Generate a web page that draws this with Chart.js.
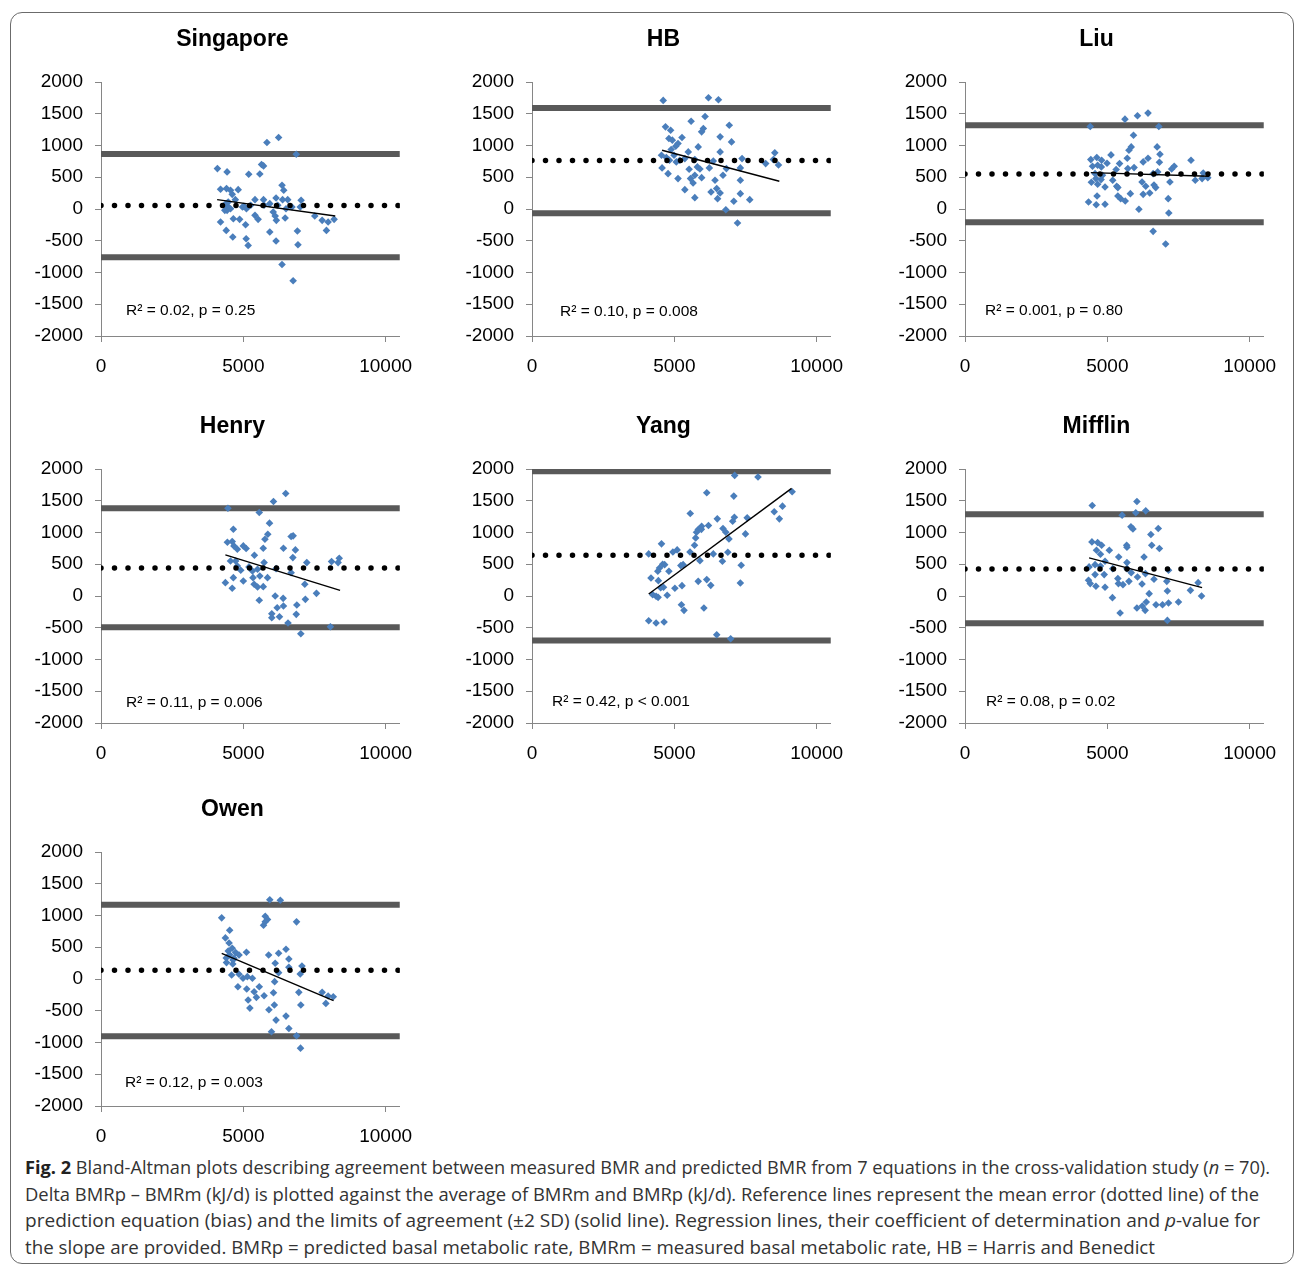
<!DOCTYPE html>
<html lang="en">
<head>
<meta charset="UTF-8" />
<title>Bland-Altman plots, 7 BMR equations</title>
<script src="https://cdn.jsdelivr.net/npm/chart.js"></script>
<style>
  body { margin: 0; background: #fff; width: 1296px; height: 1265px; position: relative; overflow: hidden; }
  .frame { position: absolute; left: 10px; top: 12px; width: 1284px; height: 1252px; border: 1px solid #6b6b6b; border-radius: 12px; box-sizing: border-box; }
  .panel { position: absolute; }
  .caption { position: absolute; left: 25px; top: 1154px; font-family: "Open Sans", sans-serif; font-size: 18.5px; line-height: 26.5px; color: #333; white-space: nowrap; }
  .caption div { transform-origin: 0 0; width: max-content; }
</style>
</head>
<body>
<div class="frame"></div>

<div class="caption" id="caption">
  <div><b style="color:#222">Fig. 2</b> Bland-Altman plots describing agreement between measured BMR and predicted BMR from 7 equations in the cross-validation study (<i>n</i> = 70).</div>
  <div>Delta BMRp – BMRm (kJ/d) is plotted against the average of BMRm and BMRp (kJ/d). Reference lines represent the mean error (dotted line) of the</div>
  <div>prediction equation (bias) and the limits of agreement (±2 SD) (solid line). Regression lines, their coefficient of determination and <i>p</i>-value for</div>
  <div>the slope are provided. BMRp = predicted basal metabolic rate, BMRm = measured basal metabolic rate, HB = Harris and Benedict</div>
</div>

<script>
  // points: [average of BMRm and BMRp, BMRp - BMRm]  (kJ/d)
  const singapore = [[4090,636],[4430,584],[5830,1047],[6240,1126],[6860,863],[5190,547],[5580,552],[5640,700],[5710,679],[4200,310],
    [4410,321],[4550,295],[4820,305],[4610,231],[4720,147],[4330,58],[4430,-21],[4550,5],[4400,84],[4970,32],
    [5110,5],[5260,58],[5410,147],[5710,147],[5930,84],[6150,174],[6360,373],[6420,295],[6380,147],[6560,147],
    [7030,137],[7000,32],[5730,58],[6210,58],[6050,-47],[6120,-110],[5410,-100],[5520,-163],[6160,-179],[6470,-142],
    [4200,-205],[4650,-153],[4870,-163],[5080,-247],[7510,-110],[7770,-179],[7980,-205],[8190,-163],[7920,-337],[4400,-337],
    [4630,-442],[5100,-468],[5170,-573],[5930,-363],[6150,-505],[6900,-347],[6920,-563],[6360,-873],[6750,-1131],[4490,21],
    [4350,-21],[4470,110],[5020,42],[6710,32],[6500,5]];
  const hb = [[4610,1710],[6200,1752],[6550,1720],[6080,1457],[5590,1383],[6930,1320],[4690,1294],[4870,1241],[6610,1136],[7010,1057],
    [6020,1268],[5960,1215],[5270,1126],[4810,1110],[4930,1084],[5130,1031],[5050,989],[4890,936],[5840,978],[5490,899],
    [6610,899],[4550,847],[4720,810],[4990,847],[5190,768],[5370,794],[5720,778],[6370,757],[7380,794],[8210,715],
    [8530,884],[8480,778],[8660,694],[4570,647],[4780,557],[5520,626],[5810,663],[5900,631],[6230,647],[6830,636],
    [7320,647],[5130,479],[5570,479],[5720,531],[5960,494],[5660,410],[6430,452],[6710,531],[7320,452],[5370,305],
    [6290,268],[6490,321],[6610,252],[5720,179],[6520,163],[7320,242],[7090,121],[7650,147],[6810,-11],[7220,-221],
    [4830,768],[5070,742]];
  const liu = [[4400,1299],[5620,1415],[6060,1468],[6430,1510],[6810,1299],[5920,1162],[5840,978],[5760,926],[6750,978],[6850,863],
    [6830,736],[5130,852],[5700,800],[6430,800],[6260,742],[7940,768],[4420,778],[4630,810],[4800,768],[4990,721],
    [5430,715],[4480,673],[4660,689],[4790,663],[5310,621],[5720,636],[5940,652],[7350,673],[7260,631],[6770,584],
    [6610,557],[8370,568],[4570,557],[4830,531],[4600,479],[4780,463],[4440,421],[4660,389],[4920,347],[5190,452],
    [5330,358],[5370,337],[6220,426],[6350,358],[6640,379],[6700,337],[7200,426],[8090,452],[8330,479],[8530,494],
    [4640,205],[4920,74],[4610,68],[4340,110],[5370,205],[5470,163],[5630,126],[5810,242],[6260,231],[6490,252],
    [7140,163],[6110,-5],[7160,-63],[6610,-352],[7050,-552]];
  const henry = [[4460,1383],[6490,1615],[6060,1489],[5560,1315],[5920,1147],[4650,1052],[5860,973],[5760,894],[6680,936],[6750,947],
    [4440,847],[4610,857],[4670,789],[4790,736],[5000,789],[5100,747],[5700,752],[6410,752],[6830,726],[5390,642],
    [6740,605],[4550,552],[4730,552],[4790,473],[4910,405],[5200,458],[5320,394],[5500,421],[5730,526],[6150,431],
    [7230,526],[8100,542],[8330,526],[8370,594],[4650,289],[4370,210],[4610,121],[5000,237],[5340,289],[5580,316],
    [5850,289],[5380,184],[5500,142],[5700,147],[6680,368],[7160,184],[7570,42],[5560,-68],[6120,0],[6400,-37],
    [7180,-53],[6880,-142],[6190,-184],[6410,-158],[6000,-279],[6000,-342],[6270,-326],[6860,-289],[6570,-426],[8060,-484],
    [7020,-594]];
  const yang = [[7120,1899],[7940,1873],[9140,1641],[6140,1625],[7090,1573],[8800,1415],[8510,1326],[8690,1215],[5560,1299],[6510,1215],
    [7110,1241],[7050,1178],[7560,1231],[6200,1110],[5960,1099],[5840,1047],[5780,1005],[5750,915],[6710,1063],[6810,1005],
    [6920,899],[7500,978],[5710,800],[4550,821],[4950,694],[5100,726],[5550,694],[4100,663],[6370,663],[6880,689],
    [6690,547],[5900,557],[5310,494],[5230,479],[7350,484],[4660,494],[4480,442],[4420,389],[4810,389],[4180,284],
    [4440,242],[4620,137],[5020,121],[5270,163],[5840,231],[6140,258],[6280,168],[7320,205],[4240,21],[4360,-5],
    [4430,-21],[4750,11],[5250,-137],[5340,-226],[6040,-189],[4100,-389],[4360,-426],[4640,-410],[6490,-610],[6980,-673],
    [4590,500],[4520,130],[5950,1050]];
  const mifflin = [[4470,1425],[6040,1489],[6000,1310],[6350,1341],[5520,1273],[5830,1089],[5900,1057],[6790,1063],[6530,968],[4460,852],
    [4660,842],[4800,800],[4620,721],[4760,657],[5070,721],[5680,800],[5690,768],[6560,800],[6830,747],[4920,547],
    [5400,615],[6290,615],[5690,526],[4570,494],[4360,458],[4760,473],[5190,431],[5690,431],[5840,368],[6060,300],
    [6340,352],[7150,405],[4570,337],[4890,337],[5370,274],[5760,231],[6640,263],[7090,231],[8190,210],[4340,247],
    [4400,195],[4600,153],[4920,137],[5390,195],[5550,179],[6220,189],[7920,89],[8310,0],[5180,-26],[7110,79],
    [6470,37],[6040,-189],[6230,-158],[6330,-226],[6370,-95],[6710,-137],[6940,-137],[7150,-110],[7500,-95],[5450,-268],
    [7110,-384]];
  const owen = [[5930,1247],[6300,1241],[4240,963],[5770,989],[5850,936],[5710,847],[5770,900],[6870,900],[4520,768],[4370,647],
    [4500,568],[4610,484],[4470,442],[4730,416],[4850,379],[4670,326],[5110,421],[5890,379],[6240,405],[6500,468],
    [6600,316],[4410,258],[4630,237],[6120,247],[6600,184],[7060,205],[4590,63],[4850,74],[4990,11],[5140,37],
    [5320,11],[6240,100],[7000,79],[4810,-121],[5120,-158],[5380,-200],[5560,-121],[5730,-263],[5460,-289],[6060,-216],
    [6100,-42],[6950,-210],[7770,-210],[7980,-268],[8160,-279],[7900,-384],[5170,-331],[5230,-458],[5900,-484],[6090,-410],
    [7020,-410],[6150,-647],[6500,-584],[5990,-831],[6600,-779],[6870,-894],[7010,-1089],[4520,380],[4640,300],[4400,330]];

  // reference lines: [upper limit (+2 SD), bias, lower limit (-2 SD)]
  const singaporeRef = [865, 55, -760];
  const hbRef = [1590, 763, -68];
  const liuRef = [1320, 552, -210];
  const henryRef = [1383, 442, -494];
  const yangRef = [1965, 642, -700];
  const mifflinRef = [1289, 426, -431];
  const owenRef = [1168, 137, -900];

  // regression line end points
  const singaporeReg = [[4080,147],[8230,-110]];
  const hbReg = [[4570,926],[8690,437]];
  const liuReg = [[4420,573],[8570,515]];
  const henryReg = [[4370,647],[8400,89]];
  const yangReg = [[4100,32],[9120,1694]];
  const mifflinReg = [[4360,600],[8330,131]];
  const owenReg = [[4240,405],[8170,-342]];

  const titles = ['Singapore', 'HB', 'Liu', 'Henry', 'Yang', 'Mifflin', 'Owen'];
  const notes = ['R² = 0.02, p = 0.25', 'R² = 0.10, p = 0.008', 'R² = 0.001, p = 0.80',
    'R² = 0.11, p = 0.006', 'R² = 0.42, p < 0.001', 'R² = 0.08, p = 0.02', 'R² = 0.12, p = 0.003'];

  const xRange = [0, 10500];
  const xTickValues = [0, 5000, 10000];
  const yRange = [-2000, 2000];
  const yStep = 500;

  // layout: y-axis pixel, plot top, note offset x, note offset y
  const layout = [
    { pts: singapore, ref: singaporeRef, reg: singaporeReg, ax: 101, top: 82,  ndx: 25, ndy: 229 },
    { pts: hb,        ref: hbRef,        reg: hbReg,        ax: 532, top: 82,  ndx: 28, ndy: 230 },
    { pts: liu,       ref: liuRef,       reg: liuReg,       ax: 965, top: 82,  ndx: 20, ndy: 229 },
    { pts: henry,     ref: henryRef,     reg: henryReg,     ax: 101, top: 469, ndx: 25, ndy: 234 },
    { pts: yang,      ref: yangRef,      reg: yangReg,      ax: 532, top: 469, ndx: 20, ndy: 233 },
    { pts: mifflin,   ref: mifflinRef,   reg: mifflinReg,   ax: 965, top: 469, ndx: 21, ndy: 233 },
    { pts: owen,      ref: owenRef,      reg: owenReg,      ax: 101, top: 852, ndx: 24, ndy: 231 }
  ];

  const AXIS_W = 80, TOP_PAD = 60, W = 405, H = 360;
  const FONT = '"Liberation Sans", Arial, sans-serif';

  // panel title + R2 note
  const panelText = {
    id: 'panelText',
    afterDraw(chart, args, opts) {
      const { ctx, chartArea } = chart;
      ctx.save();
      ctx.fillStyle = '#000';
      ctx.textBaseline = 'middle';
      ctx.textAlign = 'center';
      ctx.font = 'bold 23px ' + FONT;
      ctx.fillText(opts.title, (chartArea.left + chartArea.right) / 2 - 18, 18);
      ctx.textAlign = 'left';
      ctx.font = '15.5px ' + FONT;
      ctx.fillText(opts.note, chartArea.left + opts.dx, chartArea.top + opts.dy);
      ctx.restore();
    }
  };

  const hline = (y) => [{ x: xRange[0], y: y }, { x: xRange[1], y: y }];

  layout.forEach((p, i) => {
    const wrap = document.createElement('div');
    wrap.className = 'panel';
    wrap.style.left = (p.ax - AXIS_W) + 'px';
    wrap.style.top = (p.top - TOP_PAD) + 'px';
    const cv = document.createElement('canvas');
    cv.width = W; cv.height = H;
    wrap.appendChild(cv);
    document.body.appendChild(wrap);

    new Chart(cv, {
      type: 'scatter',
      data: {
        datasets: [
          { type: 'line', showLine: true, data: p.reg.map(([x, y]) => ({ x, y })),
            borderColor: '#000', borderWidth: 1.4, pointRadius: 0, order: 0 },
          { type: 'line', showLine: true, data: hline(p.ref[1]),
            borderColor: '#000', borderWidth: 5.5, borderDash: [0, 13.5], borderCapStyle: 'round',
            pointRadius: 0, order: 1 },
          { data: p.pts.map(([x, y]) => ({ x, y })), pointStyle: 'rectRot', pointRadius: 3.8,
            backgroundColor: '#4a7ebb', borderWidth: 0, order: 2 },
          { type: 'line', showLine: true, data: hline(p.ref[0]),
            borderColor: '#595959', borderWidth: 6, pointRadius: 0, order: 3 },
          { type: 'line', showLine: true, data: hline(p.ref[2]),
            borderColor: '#595959', borderWidth: 6, pointRadius: 0, order: 3 }
        ]
      },
      options: {
        responsive: false,
        animation: false,
        layout: { padding: { top: TOP_PAD, right: 20, bottom: 0, left: 0 } },
        scales: {
          x: {
            type: 'linear', min: xRange[0], max: xRange[1],
            border: { color: '#868686', width: 1 },
            grid: { drawOnChartArea: false, tickLength: 6, color: '#868686' },
            ticks: { padding: 13, maxRotation: 0, autoSkip: false,
              color: '#000', font: { family: FONT, size: 19 }, callback: v => String(v) },
            afterBuildTicks: s => { s.ticks = xTickValues.map(v => ({ value: v })); },
            afterFit: s => { s.height = 46; }
          },
          y: {
            min: yRange[0], max: yRange[1],
            border: { color: '#868686', width: 1 },
            grid: { drawOnChartArea: false, tickLength: 6, color: '#868686' },
            ticks: { stepSize: yStep, padding: 12, color: '#000',
              font: { family: FONT, size: 19 }, callback: v => String(v) },
            afterFit: s => { s.width = AXIS_W; }
          }
        },
        plugins: {
          legend: { display: false },
          tooltip: { enabled: false },
          panelText: { title: titles[i], note: notes[i], dx: p.ndx, dy: p.ndy }
        }
      },
      plugins: [panelText]
    });
  });

  // squeeze caption lines to the widths of the printed figure
  const lineWidths = [1245, 1234, 1235, 1130];
  document.querySelectorAll('#caption div').forEach((el, i) => {
    const w = el.getBoundingClientRect().width;
    el.style.transform = 'scaleX(' + (lineWidths[i] / w) + ')';
  });
</script>
</body>
</html>
